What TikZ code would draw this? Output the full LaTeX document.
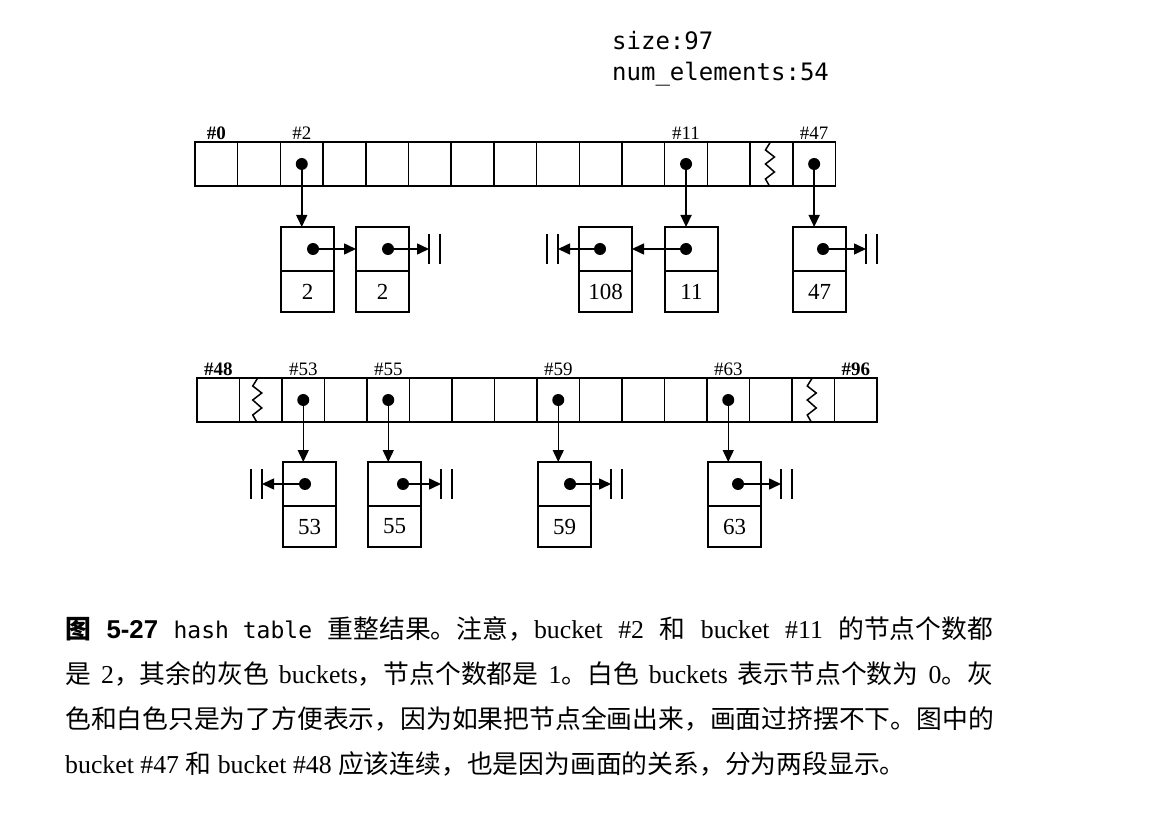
\documentclass[tikz,border=0pt]{standalone}
\usepackage{fontspec}
\setmainfont{Liberation Serif}
\setmonofont{DejaVu Sans Mono}
\newfontfamily\cjk{Noto Sans CJK SC}
\newfontfamily\heiti{Liberation Sans}
\usetikzlibrary{positioning}
\usetikzlibrary{arrows.meta}

\begin{document}
\begin{tikzpicture}
[x=1pt,y=-1pt,
cell/.style={rectangle,draw=black,line width=1.5pt,minimum width=42.7pt,minimum height=44pt,inner sep=0pt,outer sep=0pt},
bcell/.style={cell,minimum width=42.5pt},
ptrbox/.style={rectangle,draw=black,line width=1.5pt,minimum width=53pt,minimum height=44pt,inner sep=0pt,outer sep=0pt},
valbox/.style={ptrbox,minimum height=41pt,font=\fontsize{23}{23}\selectfont},
dot/.style={circle,fill=black,inner sep=0pt,minimum size=12pt},
lbl/.style={inner sep=1pt,font=\fontsize{19}{19}\selectfont},
link/.style={-{Triangle[length=12pt,width=11pt]},line width=1.5pt},
bar/.style={line width=1.5pt},
zig/.style={line width=1.5pt,line join=miter},
info/.style={anchor=base west,inner sep=0pt,font=\ttfamily\fontsize{24}{24}\selectfont},
capline/.style={anchor=base west,inner sep=0pt,font=\fontsize{25.8}{25.8}\selectfont}]

\useasboundingbox (0,0) rectangle (1160,818);

% header
\node[info] (sz) at (612,50) {size:97};
\node[info] (ne) at (612,81) {num\_elements:54};

% buckets #0 .. #47
\foreach \i in {0,...,14}
  \node[cell] (t\i) at ({195+42.7*(\i+0.5)},164) {};
\node[lbl,above=1pt of t0]  {\textbf{\#0}};
\node[lbl,above=1pt of t2]  {\#2};
\node[lbl,above=1pt of t11] {\#11};
\node[lbl,above=1pt of t14] {\#47};
\foreach \i in {2,11,14}
  \node[dot] (t\i d) at (t\i) {};
\draw[zig] ([xshift=-1pt]t13.north) -- ++(-5,8) -- ++(9,7) -- ++(-9,7) -- ++(9,8) -- ++(-9,7) -- ++(4,7);

% buckets #48 .. #96
\foreach \i in {0,...,15}
  \node[bcell] (b\i) at ({197+42.5*(\i+0.5)},400) {};
\node[lbl,above=1pt of b0]  {\textbf{\#48}};
\node[lbl,above=1pt of b2]  {\#53};
\node[lbl,above=1pt of b4]  {\#55};
\node[lbl,above=1pt of b8]  {\#59};
\node[lbl,above=1pt of b12] {\#63};
\node[lbl,above=1pt of b15] {\textbf{\#96}};
\foreach \i in {2,4,8,12}
  \node[dot] (b\i d) at (b\i) {};
\draw[zig] ([xshift=-3pt]b1.north) -- ++(-5,8) -- ++(9,7) -- ++(-9,7) -- ++(9,8) -- ++(-9,7) -- ++(4,7);
\draw[zig] ([xshift=-1pt]b14.north) -- ++(-5,8) -- ++(9,7) -- ++(-9,7) -- ++(9,8) -- ++(-9,7) -- ++(4,7);

% list nodes, upper row
\node[ptrbox,anchor=north west] (p2a)  at (281,227) {};
\node[valbox,below=0pt of p2a]  (v2a)  {2};
\node[ptrbox,anchor=north west] (p2b)  at (356,227) {};
\node[valbox,below=0pt of p2b]  (v2b)  {2};
\node[ptrbox,anchor=north west] (p108) at (579,227) {};
\node[valbox,below=0pt of p108] (v108) {108};
\node[ptrbox,anchor=north west] (p11)  at (665,227) {};
\node[valbox,below=0pt of p11]  (v11)  {11};
\node[ptrbox,anchor=north west] (p47)  at (793,227) {};
\node[valbox,below=0pt of p47]  (v47)  {47};

\node[dot] (p2ad)  at ([xshift=32pt]p2a.west)  {};
\node[dot] (p2bd)  at ([xshift=32pt]p2b.west)  {};
\node[dot] (p108d) at ([xshift=21pt]p108.west) {};
\node[dot] (p11d)  at ([xshift=21pt]p11.west)  {};
\node[dot] (p47d)  at ([xshift=30pt]p47.west)  {};

\coordinate (n2b)  at ([xshift=20pt]p2b.east);
\coordinate (n108) at ([xshift=-21pt]p108.west);
\coordinate (n47)  at ([xshift=20pt]p47.east);

\draw[link] (t2d.center)  -- (t2d |- p2a.north);
\draw[link] (t11d.center) -- (t11d |- p11.north);
\draw[link] (t14d.center) -- (t14d |- p47.north);
\draw[link] (p2ad.center)  -- (p2ad -| p2b.west);
\draw[link] (p2bd.center)  -- (n2b);
\draw[link] (p11d.center)  -- (p11d -| p108.east);
\draw[link] (p108d.center) -- (n108);
\draw[link] (p47d.center)  -- (n47);

% list nodes, lower row
\node[ptrbox,anchor=north west] (p53) at (283,462) {};
\node[valbox,below=0pt of p53]  (v53) {53};
\node[ptrbox,anchor=north west] (p55) at (368,462) {};
\node[valbox,below=0pt of p55]  (v55) {55};
\node[ptrbox,anchor=north west] (p59) at (538,462) {};
\node[valbox,below=0pt of p59]  (v59) {59};
\node[ptrbox,anchor=north west] (p63) at (708,462) {};
\node[valbox,below=0pt of p63]  (v63) {63};

\node[dot] (p53d) at ([xshift=22pt]p53.west) {};
\node[dot] (p55d) at ([xshift=35pt]p55.west) {};
\node[dot] (p59d) at ([xshift=32pt]p59.west) {};
\node[dot] (p63d) at ([xshift=30pt]p63.west) {};

\coordinate (n53) at ([xshift=-21pt]p53.west);
\coordinate (n55) at ([xshift=20pt]p55.east);
\coordinate (n59) at ([xshift=20pt]p59.east);
\coordinate (n63) at ([xshift=20pt]p63.east);

\draw[link] (b2d.center)  -- (b2d |- p53.north);
\draw[link] (b4d.center)  -- (b4d |- p55.north);
\draw[link] (b8d.center)  -- (b8d |- p59.north);
\draw[link] (b12d.center) -- (b12d |- p63.north);
\draw[link] (p53d.center) -- (n53);
\draw[link] (p55d.center) -- (n55);
\draw[link] (p59d.center) -- (n59);
\draw[link] (p63d.center) -- (n63);

% nil marks
\foreach \n in {n2b,n47,n55,n59,n63} {
  \draw[bar] ([yshift=15pt]\n) -- ([yshift=-15pt]\n);
  \draw[bar] ([shift={(11pt,15pt)}]\n) -- ([shift={(11pt,-15pt)}]\n);
}
\foreach \n in {n108,n53} {
  \draw[bar] ([yshift=15pt]\n) -- ([yshift=-15pt]\n);
  \draw[bar] ([shift={(-11pt,15pt)}]\n) -- ([shift={(-11pt,-15pt)}]\n);
}

% caption
\node[capline] (cap1) at (65,638) {\makebox[928pt][s]{{\cjk\bfseries 图} {\heiti\bfseries 5-27} {\ttfamily\fontsize{23}{23}\selectfont hash table} {\cjk 重整结果。注意，}bucket \#2 {\cjk 和} bucket \#11 {\cjk 的节点个数都}}};
\node[capline] (cap2) at (65,683) {\makebox[928pt][s]{{\cjk 是} 2{\cjk ，其余的灰色} buckets{\cjk ，节点个数都是} 1{\cjk 。白色} buckets {\cjk 表示节点个数为} 0{\cjk 。灰}}};
\node[capline] (cap3) at (65,728) {{\cjk 色和白色只是为了方便表示，因为如果把节点全画出来，画面过挤摆不下。图中的}};
\node[capline] (cap4) at (65,773) {bucket \#47 {\cjk 和} bucket \#48 {\cjk 应该连续，也是因为画面的关系，分为两段显示。}};
\end{tikzpicture}
\end{document}
